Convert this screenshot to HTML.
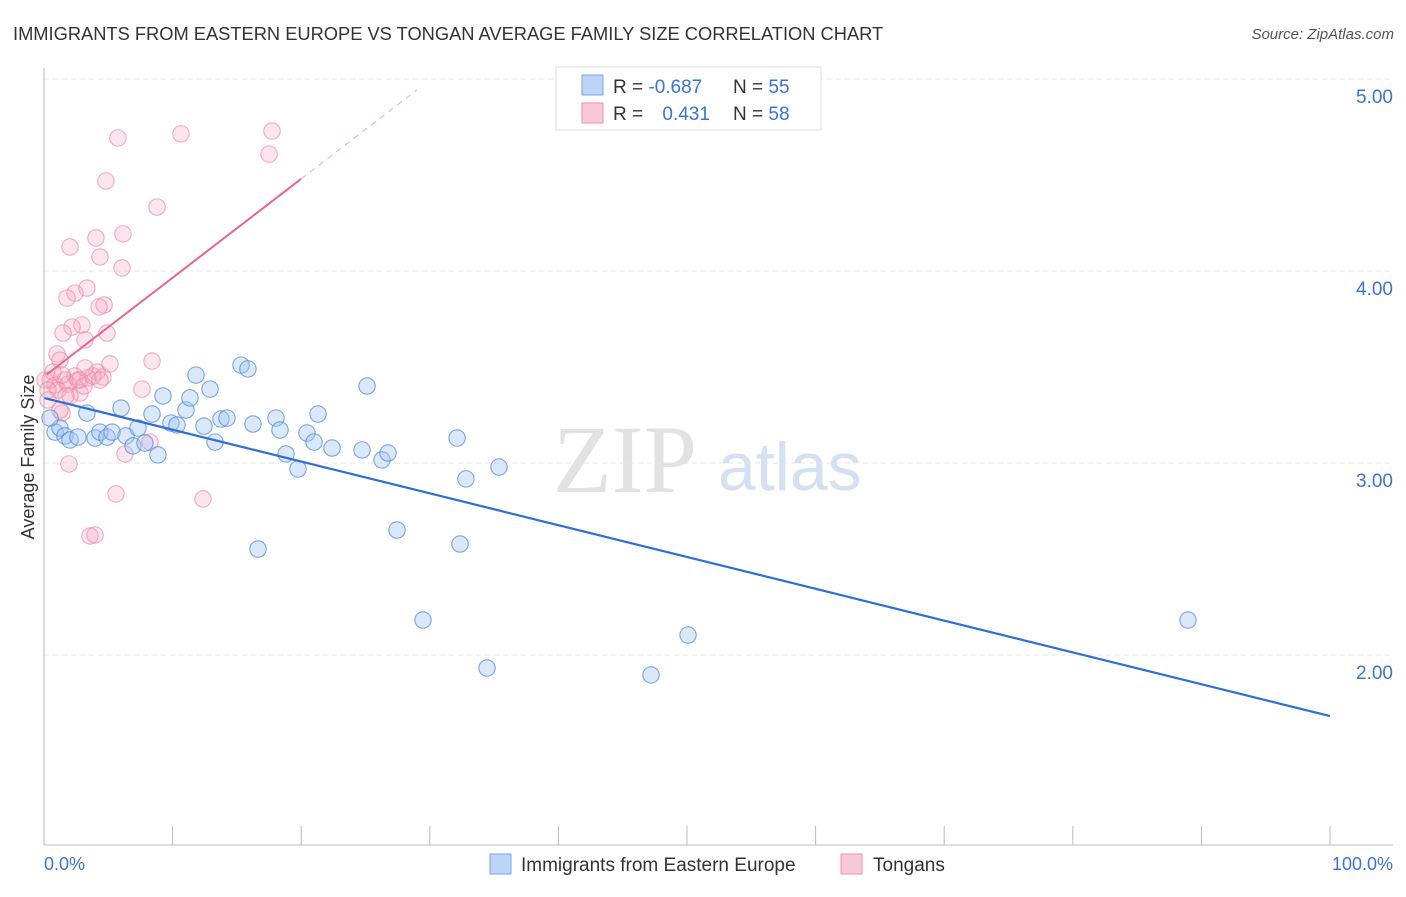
<!DOCTYPE html>
<html><head><meta charset="utf-8"><style>
body{margin:0;background:#fff;font-family:"Liberation Sans",sans-serif;}
svg text{font-family:"Liberation Sans",sans-serif;}
</style></head><body>
<svg id="c" width="1406" height="892">
<text x="13" y="40" font-size="18.3" fill="#333">IMMIGRANTS FROM EASTERN EUROPE VS TONGAN AVERAGE FAMILY SIZE CORRELATION CHART</text>
<text x="1394" y="39" font-size="15" fill="#555" font-style="italic" text-anchor="end">Source: ZipAtlas.com</text>
<text transform="translate(34,457) rotate(-90)" font-size="18" fill="#333" text-anchor="middle">Average Family Size</text>
<text x="553" y="492" font-size="96" fill="#e2e2e2" style="font-family:'Liberation Serif',serif">ZIP</text>
<text x="718" y="490" font-size="68" fill="#d3e1f3">atlas</text>
<g id="grid"></g><g id="pts"></g><g id="lines"></g>
<line x1="44" y1="68" x2="44" y2="845" stroke="#bbb"/>
<line x1="44" y1="845" x2="1393" y2="845" stroke="#bbb"/>
<text x="44" y="870" font-size="18" fill="#3a74d8">0.0%</text>
<text x="1393" y="870" font-size="18" fill="#3a74d8" text-anchor="end">100.0%</text>
<g>
<rect x="556" y="67" width="265" height="63" fill="#fff" stroke="#ddd"/>
<rect x="582" y="75" width="21" height="20" fill="#bcd4f5" stroke="#7aa5e8"/>
<rect x="582" y="103" width="21" height="20" fill="#f9c8d6" stroke="#ee92ae"/>
<text x="613" y="93" font-size="19" fill="#333">R = <tspan fill="#3a74d8">-0.687</tspan></text>
<text x="733" y="93" font-size="19" fill="#333">N = <tspan fill="#3a74d8">55</tspan></text>
<text x="613" y="120" font-size="19" fill="#333">R = <tspan fill="#3a74d8" dx="14">0.431</tspan></text>
<text x="733" y="120" font-size="19" fill="#333">N = <tspan fill="#3a74d8">58</tspan></text>
</g>
<g>
<rect x="490" y="854" width="21" height="20" fill="#bcd4f5" stroke="#7aa5e8"/>
<text x="521" y="871" font-size="19" fill="#333">Immigrants from Eastern Europe</text>
<rect x="841" y="854" width="21" height="20" fill="#f9c8d6" stroke="#ee92ae"/>
<text x="873" y="871" font-size="19" fill="#333">Tongans</text>
</g>
</svg>
<script>
const yTicks=[2,3,4,5];
const yTickLabels=["2.00","3.00","4.00","5.00"];
const blueX=[0.86,1.24,1.63,2.02,2.64,3.34,3.97,4.35,4.9,5.29,5.99,6.38,6.92,7.31,7.85,8.4,8.86,9.25,9.87,10.34,11.04,11.35,11.82,12.44,12.91,13.3,13.76,14.23,15.32,15.86,16.25,16.64,18.04,18.35,18.82,19.75,20.45,21,21.31,22.4,24.73,25.12,26.28,26.75,27.45,29.47,32.12,32.35,32.81,34.45,35.38,47.2,50.08,88.96,0.47];
const blueY=[3.161,3.182,3.141,3.12,3.135,3.26,3.13,3.161,3.135,3.161,3.286,3.141,3.089,3.182,3.104,3.255,3.042,3.349,3.208,3.198,3.276,3.339,3.458,3.192,3.385,3.109,3.229,3.234,3.51,3.49,3.203,2.552,3.234,3.172,3.047,2.969,3.156,3.109,3.255,3.078,3.068,3.401,3.016,3.052,2.651,2.182,3.13,2.578,2.917,1.932,2.979,1.896,2.104,2.182,3.234];
const pinkX=[5.75,10.65,17.73,17.5,4.82,8.79,4.04,6.14,2.02,4.35,6.07,3.34,2.41,1.79,4.67,4.28,2.95,2.18,4.9,3.19,1.48,1.01,1.24,5.13,8.4,4.12,2.41,1.63,0.47,0.86,0.08,1.09,1.87,2.8,3.42,3.81,4.59,2.8,2.02,7.62,6.3,1.4,1.24,8.24,1.94,5.6,12.36,3.58,3.97,1.4,0.31,0.7,0.31,2.64,3.11,1.71,4.35,3.19];
const pinkY=[4.693,4.714,4.729,4.609,4.469,4.333,4.172,4.193,4.125,4.073,4.016,3.911,3.885,3.859,3.823,3.813,3.719,3.708,3.677,3.641,3.677,3.568,3.536,3.516,3.531,3.474,3.453,3.432,3.432,3.406,3.432,3.38,3.411,3.432,3.443,3.453,3.448,3.365,3.349,3.385,3.047,3.26,3.276,3.109,2.995,2.839,2.813,2.62,2.625,3.458,3.38,3.474,3.328,3.432,3.401,3.349,3.432,3.495];
const blueTrend=[3.339,1.682];
const pinkTrend=[3.45,0.0515];
const X=v=>44+v/100*1286, Y=v=>655-(v-2)*192;
const NS="http://www.w3.org/2000/svg";
function mk(tag,attrs,parent){const e=document.createElementNS(NS,tag);for(const k in attrs)e.setAttribute(k,attrs[k]);document.getElementById(parent).appendChild(e);return e;}
yTicks.forEach((t,i)=>{
 const l=mk('line',{x1:44,x2:1393,y1:Y(t),y2:Y(t),stroke:'#e6e6e6','stroke-dasharray':'5,4'},'grid');
 
 
 const tx=mk('text',{x:1393,y:Y(t)+24,'font-size':19,fill:'#3a74d8','text-anchor':'end'},'grid');
 tx.textContent=yTickLabels[i];
 
 
});
for(let i=0;i<=10;i++){
 const l=mk('line',{x1:X(i*10),x2:X(i*10),y1:826,y2:845,stroke:'#bbb'},'grid');
 
 
}
pinkX.forEach((x,i)=>{
 const c=mk('circle',{cx:X(x),cy:Y(pinkY[i]),r:8.2,fill:'rgba(246,170,195,0.3)',stroke:'rgba(234,130,162,0.65)','stroke-width':1.1},'pts');
 
 
});
blueX.forEach((x,i)=>{
 const c=mk('circle',{cx:X(x),cy:Y(blueY[i]),r:8.2,fill:'rgba(160,195,240,0.38)',stroke:'rgba(70,132,218,0.7)','stroke-width':1.1},'pts');
 
 
});
const bl=mk('line',{x1:X(0),y1:Y(blueTrend[0]),x2:X(100),y2:Y(blueTrend[1]),stroke:'#2d6fd6','stroke-width':2.2},'lines');


const pl=mk('line',{x1:X(0.2),y1:Y(pinkTrend[0]+pinkTrend[1]*0.2),x2:X(20),y2:Y(pinkTrend[0]+pinkTrend[1]*20),stroke:'#e8648f','stroke-width':2},'lines');


const pd=mk('line',{x1:X(20),y1:Y(pinkTrend[0]+pinkTrend[1]*20),x2:X(29),y2:Y(pinkTrend[0]+pinkTrend[1]*29),stroke:'#f0a8bf','stroke-width':1,'stroke-dasharray':'6,5'},'lines');


</script>
</body></html>
